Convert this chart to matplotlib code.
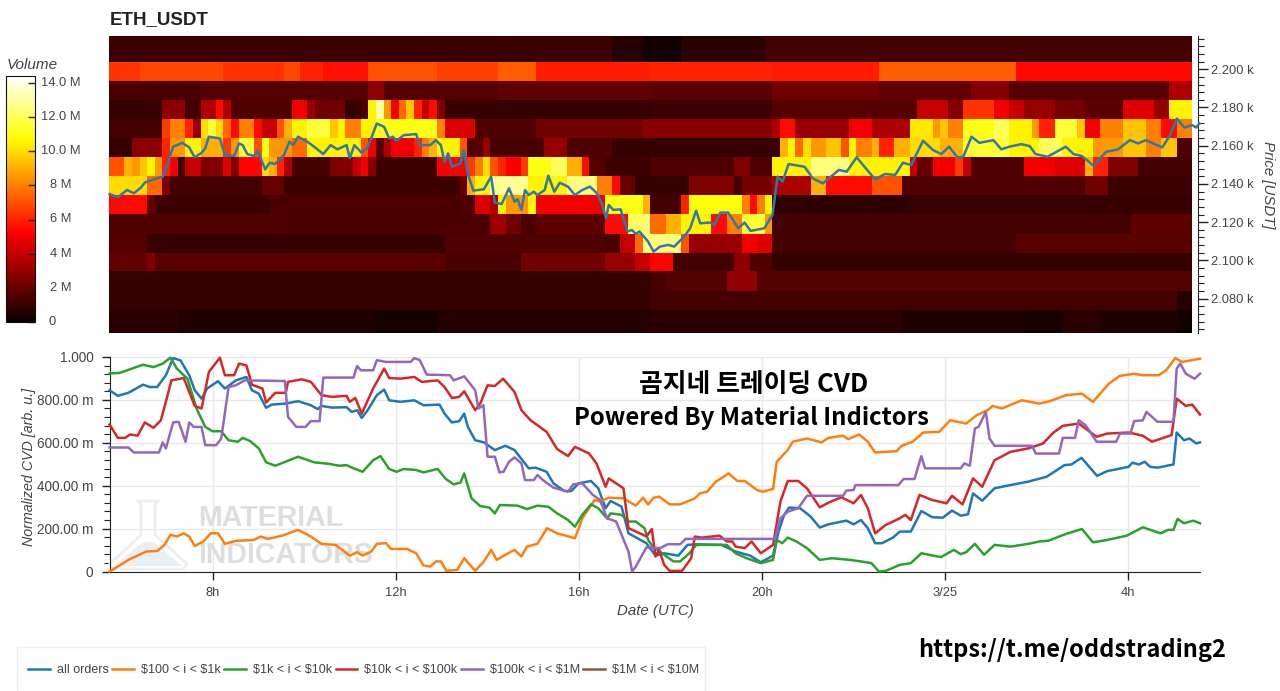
#!/usr/bin/env python3
"""ETH_USDT order-book heatmap with normalized CVD panel underneath."""
import numpy as np
import matplotlib
matplotlib.use("Agg")
import matplotlib.pyplot as plt
from matplotlib.patches import Polygon, Rectangle
from matplotlib.ticker import MultipleLocator

W, H = 1280, 691

# --- heatmap: price band edges (USDT), 10 minute columns, volume in millions ---
start_hour = 5.727
n_cols = 142
price_edges = [2217.4, 2203.8, 2193.9, 2183.8, 2174.1, 2164.0, 2154.1, 2144.1,
               2134.0, 2124.3, 2114.0, 2104.1, 2094.2, 2084.1, 2074.0, 2062.0]

# each band is a list of (last column, volume)
band_0 = [(66, 1.1), (70, 0.6), (75, 0.2), (86, 0.7), (142, 1.2)]
band_1 = [(4, 6.4), (15, 6.8), (23, 6.3), (25, 6.8), (28, 6), (34, 5.6), (43, 7), (51, 6.6),
          (56, 7.2), (71, 5.9), (87, 6), (101, 5.8), (119, 7.3), (142, 5.4)]
band_2 = [(12, 1.4), (34, 1.6), (36, 2.8), (51, 1.6), (71, 1.9), (87, 1.7), (101, 2.2), (113, 1.9),
          (118, 2.6), (139, 1.6), (142, 3.5)]
band_3 = [(4, 0.9), (7, 1), (10, 2.8), (12, 1.2), (14, 3.5), (15, 5.5), (16, 3.5), (24, 1.5), (26, 5),
          (27, 3), (31, 2.2), (33, 1), (34, 1.5), (35, 10.5), (36, 13), (37, 8.5), (38, 5), (39, 7.5),
          (40, 9.5), (41, 6), (42, 4), (43, 5.5), (44, 2.5), (71, 1), (87, 1.1), (106, 1.6), (110, 4),
          (112, 2.5), (116, 6.3), (118, 5), (120, 4), (124, 3), (128, 2.3), (133, 1.7), (137, 4.5),
          (139, 3), (142, 10.5)]
band_4 = [(7, 1.2), (8, 6.5), (10, 8), (11, 6), (12, 3), (13, 10), (14, 11.5), (15, 10), (16, 7.5),
          (17, 5.5), (19, 8), (20, 5.5), (22, 4), (23, 7), (24, 9), (26, 10.5), (29, 11.5), (30, 9.5),
          (31, 10.5), (33, 8), (35, 10.5), (43, 11), (44, 8), (48, 4.5), (56, 1.5), (70, 2.2), (87, 2.7),
          (88, 3.5), (90, 5.5), (97, 3), (100, 5), (105, 3.5), (108, 10.2), (109, 8.5), (110, 9.5),
          (112, 8), (116, 11), (118, 12), (121, 10.5), (122, 8.5), (124, 6), (127, 11.5), (128, 9.5),
          (130, 5), (133, 8), (136, 9.5), (138, 8), (140, 5.5), (142, 8)]
band_5 = [(3, 1), (7, 2.8), (8, 6), (10, 8.5), (12, 10.5), (15, 9), (16, 6.5), (17, 8.5), (19, 11.5),
          (20, 7), (21, 11), (24, 8.5), (26, 7.5), (33, 10.5), (34, 7), (35, 5), (36, 1.6), (37, 3.5),
          (40, 5), (41, 6), (42, 8), (43, 9), (46, 10.5), (47, 7), (49, 1.6), (50, 3), (57, 1.3), (60, 3),
          (66, 1.5), (87, 0.9), (88, 1), (89, 9), (90, 10.5), (91, 7.5), (92, 10), (94, 8.5), (96, 9.5),
          (97, 7), (98, 10.5), (100, 8), (101, 9), (103, 6), (105, 9), (109, 10), (112, 9), (118, 11.5),
          (122, 10.5), (125, 12), (129, 10.5), (133, 8.5), (136, 9.5), (138, 8), (140, 9.5), (142, 1.5)]
band_6 = [(2, 7), (3, 9), (4, 8.5), (5, 9.5), (6, 10.5), (7, 8.5), (8, 6), (9, 5), (10, 1.1), (12, 4),
          (15, 2.5), (16, 4.5), (17, 2.5), (20, 5.3), (21, 10), (22, 9), (23, 6), (24, 3.5), (29, 1.3),
          (32, 2.5), (33, 4), (34, 5), (35, 2.5), (43, 1.1), (47, 5.2), (48, 6.5), (49, 8), (50, 10),
          (51, 7), (52, 6), (54, 5.2), (55, 6.5), (58, 11), (60, 12), (62, 9), (63, 5.5), (65, 1.6),
          (71, 1.1), (82, 1.5), (84, 2.5), (87, 1.5), (92, 10.5), (97, 12.5), (105, 10.5), (106, 4),
          (108, 2), (111, 5), (112, 6.5), (113, 4), (120, 1.5), (124, 5), (128, 4.5), (129, 9), (131, 6),
          (135, 2.5), (142, 1.2)]
band_7 = [(5, 10), (7, 7.5), (8, 2.5), (20, 1.2), (23, 2), (46, 1.1), (47, 2), (48, 9), (50, 10.5),
          (55, 12.8), (60, 10.5), (64, 12.5), (66, 8), (67, 5.5), (69, 2), (76, 1), (82, 2.5), (83, 1.2),
          (87, 2.3), (92, 3.5), (94, 9), (100, 5.5), (104, 7), (128, 1.5), (131, 2.2), (142, 1.1)]
band_8 = [(5, 5.4), (6, 2), (21, 1.1), (46, 1.4), (48, 1.5), (50, 4.5), (51, 3.5), (52, 10.5), (55, 8.5),
          (56, 10.5), (65, 5), (70, 11), (71, 9), (75, 1.2), (76, 6), (83, 10.8), (84, 8), (85, 5.5),
          (86, 8), (87, 10.5), (105, 0.8), (142, 1)]
band_9 = [(23, 1.5), (50, 1.4), (52, 3.2), (54, 2.2), (56, 1.4), (65, 1.8), (68, 5.5), (70, 12),
          (71, 12.5), (73, 7.5), (75, 9), (79, 10.5), (81, 5.5), (83, 8), (86, 11.5), (87, 8.5),
          (134, 1.2), (142, 1.8)]
band_10 = [(5, 1.6), (44, 1), (65, 1.5), (67, 1.4), (69, 4), (70, 7.5), (75, 12.5), (76, 7), (83, 3),
           (85, 5), (87, 4.5), (119, 1.2), (142, 1.7)]
band_11 = [(5, 1.9), (6, 2.5), (44, 1.7), (54, 1.4), (65, 2.2), (69, 3), (71, 4), (74, 5.3), (82, 1.2),
           (84, 2.8), (87, 1.5), (142, 0.9)]
band_12 = [(71, 0.9), (73, 1.3), (81, 1.6), (85, 2.9), (142, 1.6)]
band_13 = [(71, 0.9), (140, 1.2), (142, 0.6)]
band_14 = [(9, 0.7), (35, 0.5), (43, 0.25), (71, 0.6), (104, 0.7), (120, 0.5), (125, 0.3), (130, 0.7),
           (140, 0.5), (142, 0.2)]
bands = [band_0, band_1, band_2, band_3, band_4, band_5, band_6, band_7,
         band_8, band_9, band_10, band_11, band_12, band_13, band_14]

# price line: (hour, USDT)
price_line = [(5.74, 2134.7), (5.92, 2133.0), (6.12, 2136.8), (6.27, 2135.1), (6.43, 2138.2), (6.51, 2140.7),
              (6.62, 2141.7), (6.90, 2143.8), (7.01, 2150.7), (7.13, 2159.5), (7.33, 2161.5), (7.48, 2159.1),
              (7.60, 2153.9), (7.75, 2156.3), (7.83, 2158.6), (7.91, 2164.7), (8.15, 2163.8), (8.26, 2155.1),
              (8.46, 2154.6), (8.57, 2161.2), (8.65, 2160.3), (8.75, 2155.6), (8.89, 2154.6), (8.98, 2157.4),
              (9.14, 2147.6), (9.24, 2151.1), (9.36, 2150.4), (9.55, 2155.1), (9.67, 2162.1), (9.75, 2160.3),
              (9.86, 2164.7), (10.06, 2162.1), (10.21, 2159.5), (10.41, 2155.6), (10.57, 2160.3), (10.72, 2158.1),
              (10.92, 2160.3), (10.99, 2153.4), (11.09, 2160.3), (11.25, 2156.3), (11.38, 2159.1), (11.58, 2171.6),
              (11.74, 2169.9), (11.85, 2163.8), (11.93, 2164.7), (12.01, 2162.6), (12.17, 2165.5), (12.44, 2166.1),
              (12.52, 2160.3), (12.75, 2160.3), (12.87, 2162.9), (12.98, 2160.3), (13.06, 2151.6), (13.14, 2156.0),
              (13.22, 2149.0), (13.41, 2150.7), (13.48, 2157.7), (13.57, 2145.5), (13.69, 2136.5), (13.92, 2137.2),
              (14.08, 2143.8), (14.16, 2130.2), (14.31, 2129.5), (14.47, 2137.7), (14.59, 2130.7), (14.66, 2132.0),
              (14.74, 2126.4), (14.82, 2136.8), (14.90, 2134.2), (15.01, 2135.9), (15.09, 2134.2), (15.25, 2136.8),
              (15.33, 2144.3), (15.46, 2135.9), (15.58, 2140.6), (15.76, 2138.6), (15.91, 2134.2), (16.07, 2136.8),
              (16.24, 2138.6), (16.38, 2135.4), (16.50, 2129.9), (16.59, 2122.0), (16.65, 2129.0), (16.75, 2126.4),
              (16.91, 2126.7), (17.06, 2115.1), (17.16, 2115.9), (17.24, 2113.8), (17.32, 2115.1), (17.51, 2109.9),
              (17.63, 2104.6), (17.77, 2107.2), (17.95, 2108.1), (18.08, 2107.2), (18.30, 2112.5), (18.43, 2116.8),
              (18.56, 2126.0), (18.65, 2119.4), (18.87, 2119.8), (18.96, 2118.6), (19.09, 2125.0), (19.26, 2125.0),
              (19.48, 2116.8), (19.62, 2119.8), (19.75, 2115.4), (20.05, 2116.8), (20.23, 2123.8), (20.34, 2143.8),
              (20.45, 2141.2), (20.58, 2150.4), (20.93, 2149.0), (21.11, 2142.9), (21.33, 2140.3), (21.68, 2147.3),
              (21.85, 2146.4), (22.07, 2153.9), (22.47, 2142.4), (22.69, 2145.2), (22.91, 2144.7), (23.08, 2151.1),
              (23.26, 2149.9), (23.52, 2162.6), (23.74, 2157.7), (23.92, 2155.6), (24.09, 2159.5), (24.27, 2153.9),
              (24.40, 2154.2), (24.58, 2164.7), (24.75, 2161.5), (25.06, 2162.9), (25.23, 2158.1), (25.41, 2159.5),
              (25.67, 2160.8), (25.85, 2159.8), (25.98, 2155.6), (26.24, 2154.2), (26.64, 2159.5), (26.81, 2155.6),
              (26.99, 2154.6), (27.25, 2149.5), (27.52, 2156.8), (27.78, 2158.0), (28.04, 2162.9), (28.22, 2161.2),
              (28.39, 2162.9), (28.75, 2159.1), (28.92, 2165.5), (29.07, 2174.2), (29.23, 2169.5), (29.40, 2170.8),
              (29.49, 2169.5), (29.56, 2171.6)]

# normalized CVD: (hour, milli-units)
cvd_all = [(5.74, 845), (5.92, 819), (6.15, 833), (6.47, 871), (6.62, 860), (6.78, 860), (6.97, 915), (7.13, 995),
           (7.29, 984), (7.48, 915), (7.60, 845), (7.75, 806), (7.87, 853), (8.11, 887), (8.26, 853), (8.50, 891),
           (8.73, 907), (8.85, 845), (9.00, 829), (9.16, 763), (9.28, 778), (9.59, 783), (9.86, 794), (10.14, 775),
           (10.29, 757), (10.37, 772), (10.60, 764), (10.92, 766), (11.03, 744), (11.15, 752), (11.25, 716),
           (11.38, 752), (11.58, 822), (11.74, 848), (11.85, 798), (12.09, 791), (12.40, 798), (12.60, 775),
           (12.95, 778), (13.06, 736), (13.22, 695), (13.38, 701), (13.49, 736), (13.57, 674), (13.73, 612),
           (13.92, 602), (14.16, 566), (14.39, 586), (14.59, 566), (14.90, 481), (15.05, 484), (15.29, 465),
           (15.44, 411), (15.68, 375), (15.83, 375), (15.99, 411), (16.26, 422), (16.42, 388), (16.58, 295),
           (16.69, 329), (16.93, 302), (17.08, 178), (17.47, 132), (17.67, 74), (17.86, 85), (18.17, 74),
           (18.37, 124), (18.56, 127), (19.11, 124), (19.42, 93), (19.74, 74), (19.97, 43), (20.24, 74),
           (20.36, 186), (20.48, 264), (20.59, 298), (20.83, 295), (21.06, 256), (21.26, 205), (21.45, 220),
           (21.84, 237), (22.00, 220), (22.16, 240), (22.31, 202), (22.47, 132), (22.62, 132), (22.86, 158),
           (23.01, 186), (23.25, 186), (23.48, 282), (23.72, 253), (23.95, 251), (24.15, 284), (24.34, 260),
           (24.50, 267), (24.61, 364), (24.81, 330), (25.08, 388), (25.43, 403), (25.82, 419), (26.22, 442),
           (26.61, 496), (26.76, 499), (26.98, 530), (27.15, 488), (27.32, 446), (27.54, 468), (28.01, 488),
           (28.09, 507), (28.24, 499), (28.36, 512), (28.48, 488), (28.64, 484), (28.99, 499), (29.06, 648),
           (29.22, 612), (29.34, 620), (29.49, 597), (29.57, 602)]
cvd_100_1k = [(5.74, 0), (5.92, 23), (6.15, 54), (6.39, 78), (6.54, 93), (6.78, 96), (6.94, 124), (7.07, 171),
              (7.21, 163), (7.36, 178), (7.48, 163), (7.60, 119), (7.79, 140), (7.95, 178), (8.11, 178), (8.26, 129),
              (8.50, 143), (8.89, 147), (9.04, 163), (9.20, 152), (9.51, 167), (9.86, 194), (10.14, 163), (10.37, 129),
              (10.68, 124), (10.99, 74), (11.15, 90), (11.27, 74), (11.46, 93), (11.58, 129), (11.78, 132), (11.89, 105),
              (12.24, 105), (12.44, 85), (12.60, 28), (12.75, 23), (12.87, 47), (12.98, 47), (13.10, 3), (13.34, 8),
              (13.49, 62), (13.73, 3), (13.92, 47), (14.08, 101), (14.20, 54), (14.39, 78), (14.59, 101), (14.74, 70),
              (14.86, 116), (15.09, 129), (15.30, 202), (15.52, 178), (15.91, 155), (16.07, 248), (16.34, 333),
              (16.46, 326), (16.65, 344), (16.97, 341), (17.24, 307), (17.40, 344), (17.51, 313), (17.63, 344),
              (17.75, 349), (17.98, 313), (18.21, 313), (18.53, 341), (18.64, 364), (18.80, 372), (18.99, 419),
              (19.27, 457), (19.46, 422), (19.62, 422), (19.89, 380), (20.01, 372), (20.24, 385), (20.32, 512),
              (20.56, 566), (20.67, 605), (20.98, 620), (21.30, 602), (21.45, 623), (21.77, 633), (21.88, 617),
              (22.12, 639), (22.31, 605), (22.47, 555), (22.70, 558), (22.94, 561), (23.05, 586), (23.29, 605),
              (23.52, 648), (23.87, 651), (24.11, 705), (24.46, 690), (24.69, 729), (24.93, 752), (25.04, 772),
              (25.24, 760), (25.67, 798), (26.06, 783), (26.29, 794), (26.64, 822), (26.99, 829), (27.23, 791),
              (27.58, 876), (27.82, 912), (28.13, 922), (28.32, 915), (28.67, 915), (28.83, 938), (29.03, 995),
              (29.18, 977), (29.57, 992)]
cvd_1k_10k = [(5.74, 923), (5.96, 926), (6.19, 943), (6.47, 964), (6.70, 953), (6.90, 969), (7.07, 997), (7.21, 946),
              (7.44, 899), (7.64, 760), (7.83, 674), (7.99, 654), (8.18, 654), (8.34, 612), (8.54, 605), (8.65, 623),
              (8.81, 608), (9.00, 574), (9.16, 509), (9.36, 493), (9.67, 519), (9.86, 535), (10.21, 509), (10.53, 502),
              (10.76, 493), (10.92, 496), (11.07, 481), (11.27, 465), (11.50, 519), (11.66, 538), (11.85, 478),
              (12.01, 465), (12.17, 478), (12.44, 473), (12.60, 462), (12.91, 478), (13.09, 431), (13.26, 406),
              (13.41, 415), (13.49, 457), (13.65, 341), (13.84, 305), (14.04, 298), (14.16, 271), (14.27, 310),
              (14.66, 307), (14.86, 291), (15.09, 307), (15.33, 302), (15.52, 271), (15.76, 240), (15.91, 209),
              (16.07, 264), (16.26, 313), (16.42, 295), (16.61, 248), (16.69, 271), (16.93, 264), (17.08, 233),
              (17.24, 233), (17.43, 202), (17.51, 147), (17.63, 109), (17.71, 101), (17.86, 78), (18.06, 47),
              (18.21, 47), (18.41, 85), (18.56, 124), (18.88, 124), (19.23, 124), (19.42, 85), (19.66, 62),
              (19.97, 39), (20.24, 54), (20.32, 147), (20.44, 132), (20.56, 158), (20.75, 140), (20.98, 109),
              (21.26, 54), (21.53, 62), (21.92, 54), (22.16, 47), (22.39, 39), (22.55, 0), (22.70, 3), (23.01, 31),
              (23.25, 39), (23.48, 85), (23.91, 67), (24.19, 101), (24.34, 81), (24.46, 90), (24.65, 129), (24.85, 78),
              (25.08, 124), (25.43, 116), (25.82, 129), (26.06, 140), (26.25, 143), (26.64, 175), (26.99, 198),
              (27.23, 136), (27.54, 147), (27.97, 167), (28.32, 206), (28.71, 178), (28.87, 194), (28.99, 194),
              (29.08, 245), (29.22, 225), (29.42, 237), (29.57, 225)]
cvd_10k_100k = [(5.74, 685), (5.92, 623), (6.08, 623), (6.19, 639), (6.35, 633), (6.51, 695), (6.70, 670), (6.86, 705),
                (6.97, 791), (7.09, 891), (7.36, 902), (7.60, 772), (7.75, 760), (7.91, 930), (8.15, 997), (8.26, 915),
                (8.46, 915), (8.57, 969), (8.73, 961), (8.85, 871), (9.08, 853), (9.16, 788), (9.36, 833), (9.59, 833),
                (9.64, 884), (9.94, 896), (10.14, 884), (10.37, 822), (10.60, 814), (10.92, 819), (10.99, 791),
                (11.11, 809), (11.25, 736), (11.50, 853), (11.74, 946), (11.85, 902), (12.09, 899), (12.40, 907),
                (12.56, 884), (12.91, 891), (13.06, 860), (13.22, 809), (13.38, 814), (13.49, 840), (13.73, 752),
                (13.84, 783), (14.00, 868), (14.16, 865), (14.34, 899), (14.59, 837), (14.74, 752), (14.94, 705),
                (15.29, 651), (15.52, 571), (15.76, 538), (15.91, 581), (16.22, 550), (16.38, 504), (16.58, 395),
                (16.65, 434), (16.97, 388), (17.08, 202), (17.40, 171), (17.47, 163), (17.59, 198), (17.67, 70),
                (17.75, 101), (17.86, 31), (17.98, 3), (18.25, 3), (18.45, 62), (18.53, 163), (18.68, 158), (19.07, 167),
                (19.23, 140), (19.35, 140), (19.42, 116), (19.62, 109), (19.77, 140), (19.97, 85), (20.24, 124),
                (20.40, 326), (20.56, 422), (20.79, 422), (20.98, 388), (21.26, 299), (21.45, 321), (21.73, 346),
                (22.00, 318), (22.16, 357), (22.31, 295), (22.47, 178), (22.70, 217), (23.01, 248), (23.13, 264),
                (23.25, 240), (23.44, 357), (23.72, 333), (24.03, 318), (24.15, 353), (24.38, 313), (24.61, 434),
                (24.81, 395), (25.08, 519), (25.43, 558), (25.82, 574), (26.14, 597), (26.37, 648), (26.57, 679),
                (26.92, 690), (27.31, 628), (27.54, 643), (28.01, 648), (28.32, 633), (28.52, 605), (28.95, 636),
                (29.06, 806), (29.26, 772), (29.40, 778), (29.57, 732)]
cvd_100k_1m = [(5.74, 578), (6.15, 578), (6.27, 555), (6.82, 555), (6.90, 602), (6.97, 574), (7.13, 695), (7.25, 698),
               (7.40, 605), (7.48, 695), (7.58, 674), (7.75, 674), (7.83, 589), (8.07, 589), (8.18, 620), (8.34, 860),
               (8.50, 868), (8.69, 891), (9.57, 888), (9.64, 721), (9.82, 674), (10.02, 674), (10.14, 701), (10.33, 701),
               (10.41, 904), (11.07, 904), (11.15, 958), (11.23, 938), (11.50, 938), (11.58, 985), (11.78, 977),
               (12.32, 977), (12.40, 995), (12.52, 985), (12.67, 918), (13.18, 915), (13.26, 891), (13.49, 910),
               (13.73, 845), (13.80, 760), (13.91, 775), (14.00, 535), (14.16, 535), (14.26, 462), (14.35, 465),
               (14.47, 512), (14.59, 532), (14.74, 504), (14.82, 426), (15.01, 426), (15.09, 450), (15.21, 426),
               (15.44, 391), (15.76, 372), (15.87, 406), (16.07, 411), (16.30, 357), (16.46, 333), (16.61, 248),
               (16.81, 233), (17.08, 93), (17.16, 0), (17.24, 23), (17.47, 112), (17.77, 109), (17.94, 127), (18.21, 127),
               (18.33, 152), (20.28, 152), (20.40, 248), (20.56, 279), (20.79, 295), (20.98, 353), (21.77, 353),
               (21.84, 377), (22.00, 380), (22.04, 403), (22.98, 403), (23.09, 431), (23.33, 431), (23.48, 538),
               (23.56, 481), (24.34, 481), (24.42, 504), (24.54, 493), (24.65, 667), (24.73, 674), (24.89, 744),
               (24.97, 620), (25.08, 586), (25.90, 586), (25.98, 550), (26.49, 550), (26.57, 623), (26.84, 623),
               (26.92, 705), (27.07, 682), (27.31, 605), (27.74, 605), (27.82, 643), (28.05, 643), (28.13, 701),
               (28.32, 705), (28.40, 744), (28.64, 698), (28.99, 698), (29.06, 946), (29.14, 969), (29.26, 922),
               (29.45, 899), (29.57, 922)]
cvd_1m_10m = []  # in the legend, nothing visible on the chart

series_labels = ["all orders", r"\$100 < i < \$1k", r"\$1k < i < \$10k", r"\$10k < i < \$100k",
                 r"\$100k < i < \$1M", r"\$1M < i < \$10M"]
series_colors = ["#1f77b4", "#ff7f0e", "#2ca02c", "#d62728", "#9467bd", "#8c564b"]

hour_ticks = [8, 12, 16, 20, 24, 28]
hour_labels = ["8h", "12h", "16h", "20h", "3/25", "4h"]
cvd_ticks = [0, 200, 400, 600, 800, 1000]
cvd_labels = ["0", "200.00 m", "400.00 m", "600.00 m", "800.00 m", "1.000"]
price_ticks = [2080, 2100, 2120, 2140, 2160, 2180, 2200]
price_labels = ["2.080 k", "2.100 k", "2.120 k", "2.140 k", "2.160 k", "2.180 k", "2.200 k"]
volume_ticks = [0, 2, 4, 6, 8, 10, 12, 14]
volume_labels = ["0", "2 M", "4 M", "6 M", "8 M", "10.0 M", "12.0 M", "14.0 M"]

GREY = "#444444"
plt.rcParams["font.family"] = ["Liberation Sans", "DejaVu Sans"]


def box(x0, y0, x1, y1):
    """pixel box, y from the top, to figure coords for add_axes"""
    return [x0 / W, 1 - y1 / H, (x1 - x0) / W, (y1 - y0) / H]


def fx(x):
    return x / W


def fy(y):
    return 1 - y / H


def expand(runs):
    out = []
    first = 0
    for last, vol in runs:
        out += [vol] * (last - first)
        first = last
    return out


fig = plt.figure(figsize=(W / 100, H / 100), dpi=100, facecolor="white")

# ---------- heatmap panel ----------
ax = fig.add_axes(box(109, 36, 1198, 333))
heat = np.array([expand(b) for b in bands])
time_edges = start_hour + np.arange(n_cols + 1) / 6
mesh = ax.pcolormesh(time_edges, price_edges, heat, cmap="hot", vmin=0, vmax=14.4,
                     shading="flat", antialiased=False, linewidth=0)
ph, pv = np.array(price_line).T
ax.plot(ph, pv, color="#2f78a8", lw=1.8, clip_on=False, zorder=3)
ax.set_xlim(start_hour, 29.53)
ax.set_ylim(2062.0, 2217.4)
ax.xaxis.set_visible(False)
ax.yaxis.tick_right()
ax.set_yticks(price_ticks, price_labels)
ax.yaxis.set_minor_locator(MultipleLocator(4))
ax.tick_params(axis="y", which="major", length=7, width=1, color="#222222",
               labelcolor=GREY, labelsize=9.3, pad=2.5)
ax.tick_params(axis="y", which="minor", length=4, width=0.8, color="#222222")
for side in ["top", "bottom", "left"]:
    ax.spines[side].set_visible(False)
ax.spines["right"].set_color("#222222")
fig.text(fx(1268), fy(185), "Price [USDT]", rotation=-90, ha="center", va="center",
         style="italic", fontsize=10.8, color=GREY)
fig.text(fx(110), fy(20), "ETH_USDT", ha="left", va="center", fontweight="bold", fontsize=13.5, color="#222222")

# ---------- colour bar ----------
cax = fig.add_axes(box(6, 76, 35, 322))
cb = fig.colorbar(mesh, cax=cax)
cb.set_ticks(volume_ticks)
cb.set_ticklabels([""] * len(volume_ticks))
cax.tick_params(length=5, width=1, direction="in", color="#222222")
cb.outline.set_edgecolor("#111111")
for v, lab in zip(volume_ticks, volume_labels):
    cax.text(((52 if v == 0 else 61) - 6) / 29, v, lab, ha="center", va="center",
             fontsize=9.3, color=GREY, transform=cax.get_yaxis_transform())
fig.text(fx(7), fy(65), "Volume", ha="left", va="center", style="italic", fontsize=11, color=GREY)

# ---------- CVD panel ----------
ax2 = fig.add_axes(box(110, 357, 1200, 571.5))
ax2.set_xlim(start_hour + 1 / 45.75, 29.57)
ax2.set_ylim(0, 1000)
cvd_series = [cvd_all, cvd_100_1k, cvd_1k_10k, cvd_10k_100k, cvd_100k_1m, cvd_1m_10m]
handles = []
for data, label, color in zip(cvd_series, series_labels, series_colors):
    if data:
        h, v = np.array(data).T
    else:
        h, v = [], []
    line, = ax2.plot(h, v, color=color, lw=1.8, label=label, zorder=3, clip_on=False)
    handles.append(line)
ax2.set_xticks(hour_ticks, hour_labels)
ax2.set_yticks(cvd_ticks, cvd_labels)
ax2.yaxis.set_minor_locator(MultipleLocator(40))
ax2.tick_params(axis="x", length=6, width=1, color="#222222", labelcolor=GREY, labelsize=9.3, pad=5)
ax2.tick_params(axis="y", which="major", length=6, width=1, color="#222222", labelcolor=GREY, labelsize=9.8, pad=6)
ax2.tick_params(axis="y", which="minor", length=4, width=0.8, color="#222222")
ax2.grid(True, color="#e8e8e8", lw=1)
ax2.set_axisbelow(True)
for side in ["top", "right"]:
    ax2.spines[side].set_visible(False)
ax2.spines["left"].set_color("#222222")
ax2.spines["bottom"].set_color("#222222")
fig.text(fx(29), fy(467), "Normalized CVD [arb. u.]", rotation=90, ha="center", va="center",
         style="italic", fontsize=10.3, color=GREY)
fig.text(fx(655), fy(611), "Date (UTC)", ha="center", va="center", style="italic", fontsize=10.8, color=GREY)

# watermark sits under the lines
tf = fig.transFigure
flask = [(138, 501), (158, 501), (155, 505), (155, 535), (187, 564), (183, 569), (113, 569), (110, 564), (141, 535), (141, 505)]
ax2.add_patch(Polygon([(fx(x), fy(y)) for x, y in flask], closed=True, transform=tf, facecolor="none",
                      edgecolor="#eceeef", lw=2, zorder=1, clip_on=False))
fill = [(143, 542), (154, 542), (182, 566), (114, 566)]
ax2.add_patch(Polygon([(fx(x), fy(y)) for x, y in fill], closed=True, transform=tf, facecolor="#e9f0f4",
                      edgecolor="none", zorder=1, clip_on=False))
wm = dict(transform=tf, ha="left", va="center", fontweight="bold", color="#dcdee1", zorder=1, fontsize=20.6)
ax2.text(fx(198), fy(518), "MATERIAL", **wm)
ax2.text(fx(198), fy(555), "INDICATORS", **wm)

# overlay captions
cjk = ["Noto Sans CJK KR", "DejaVu Sans"]
fig.text(fx(754), fy(385), "곰지네 트레이딩 CVD", ha="center", va="center", family=cjk,
         fontweight="bold", fontsize=18.6, color="black")
fig.text(fx(751), fy(418), "Powered By Material Indictors", ha="center", va="center", family=cjk,
         fontweight="bold", fontsize=17.2, color="black")
fig.text(fx(918), fy(650), "https://t.me/oddstrading2", ha="left", va="center", family=cjk,
         fontweight="bold", fontsize=17, color="black")

# ---------- legend ----------
fig.add_artist(Rectangle((fx(17), fy(691)), fx(688), fy(647) - fy(691), transform=tf,
                         facecolor="white", edgecolor="#eeeeee", lw=1))
leg = fig.legend(handles=handles, loc="center left", bbox_to_anchor=(fx(28), fy(670)), ncol=6, frameon=False,
                 fontsize=9.0, handlelength=1.75, handletextpad=0.55, columnspacing=0.28,
                 borderpad=0, borderaxespad=0, labelcolor=GREY)

fig.savefig("out.png", dpi=100, facecolor="white")
print("wrote out.png")
